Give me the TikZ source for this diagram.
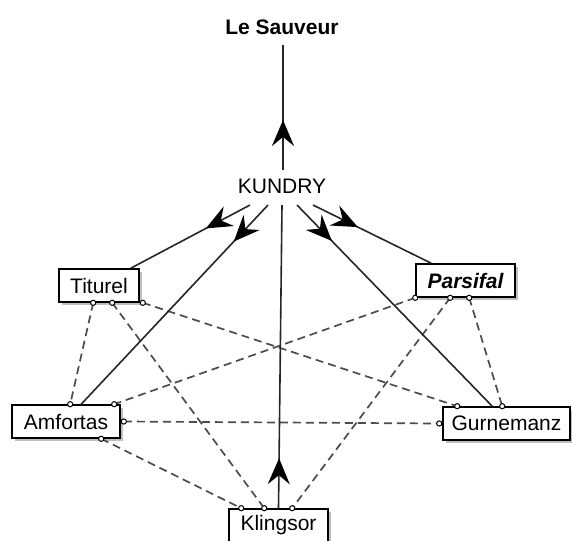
\documentclass[tikz,border=0pt]{standalone}
\usepackage{fontspec}
\setmainfont{Liberation Sans}
\usetikzlibrary{arrows.meta,decorations.markings,shadows,calc}
\begin{document}
\begin{tikzpicture}[x=1pt,y=-1pt,
  lbl/.style={inner sep=0pt, font=\fontsize{21}{25}\selectfont},
  role/.style={draw=black, line width=1.6pt, fill=white, minimum height=33pt, inner sep=0pt,
    font=\fontsize{21}{25}\selectfont,
    drop shadow={shadow xshift=3pt, shadow yshift=-3pt, fill=black, opacity=0.25}},
  rel/.style={draw=black!70, line width=1.7pt, dash pattern=on 8pt off 5pt},
  dotc/.style={draw=black, fill=white, line width=1pt},
  flow/.style={draw=black!85, line width=1.6pt, postaction={decorate},
    decoration={markings, mark=at position 50pt with {\arrow[black]{Stealth[length=26pt,width=22pt,inset=9pt]}}}},
]
\useasboundingbox (0,0) rectangle (572,540);

% labels
\node[lbl, font=\bfseries\fontsize{21}{25}\selectfont] (sau) at (282,27) {Le Sauveur};
\node[lbl] (kun) at (282,186.5) {KUNDRY};

% boxes
\node[role, minimum width=80pt] (tit) at (99,285.5) {Titurel};
\node[role, minimum width=99pt, font=\bfseries\itshape\fontsize{21}{25}\selectfont] (par) at (465.5,280.5) {Parsifal};
\node[role, minimum width=108pt] (amf) at (66,421.5) {Amfortas};
\node[role, minimum width=127pt] (gur) at (506.5,423.5) {Gurnemanz};
\node[role, minimum width=99pt] (kli) at (278.5,525.5) {Klingsor};

% dashed end points
\coordinate (t1) at ($(tit.south west)+(35,0)$);
\coordinate (t2) at ($(tit.south west)+(54,0)$);
\coordinate (t3) at ($(tit.south east)+(3,0)$);
\coordinate (a1) at ($(amf.north west)+(59,0)$);
\coordinate (a2) at ($(amf.north west)+(103,0)$);
\coordinate (a3) at ($(amf.east)+(3,0)$);
\coordinate (a4) at ($(amf.south west)+(90,0)$);
\coordinate (p1) at ($(par.south west)+(0,0)$);
\coordinate (p2) at ($(par.south west)+(35,0)$);
\coordinate (p3) at ($(par.south west)+(54,0)$);
\coordinate (g1) at ($(gur.north west)+(15,0)$);
\coordinate (g2) at ($(gur.north west)+(60,0)$);
\coordinate (g3) at ($(gur.west)+(-3,0)$);
\coordinate (k1) at ($(kli.north west)+(13,0)$);
\coordinate (k2) at ($(kli.north west)+(36,0)$);
\coordinate (k3) at ($(kli.north west)+(64,0)$);

% dashed relations
\draw[rel] (t1) -- (a1);
\draw[rel] (t2) -- (k2);
\draw[rel] (t3) -- (g1);
\draw[rel] (p1) -- (a2);
\draw[rel] (p2) -- (k3);
\draw[rel] (p3) -- (g2);
\draw[rel] (a3) -- (g3);
\draw[rel] (a4) -- (k1);
\foreach \c in {t1,t2,t3,a1,a2,a3,a4,p1,p2,p3,g1,g2,g3,k1,k2,k3}
  \draw[dotc] (\c) circle (2.6pt);

% solid flows
\draw[flow] ($(kun.south)+(-32,11)$) -- ($(tit.north east)+(-9,0)$);
\draw[flow] ($(kun.south)+(-14,11)$) -- ($(amf.north west)+(70,0)$);
\draw[flow] ($(kun.south)+(15,11)$) -- ($(gur.north west)+(50,0)$);
\draw[flow] ($(kun.south)+(31,11)$) -- ($(par.north west)+(16,0)$);
\draw[flow] (kli.north) -- ($(kun.south)+(0,11)$);
\draw[flow] ($(kun.north)+(1,-9)$) -- ($(sau.south)+(1,10.5)$);
\end{tikzpicture}
\end{document}
